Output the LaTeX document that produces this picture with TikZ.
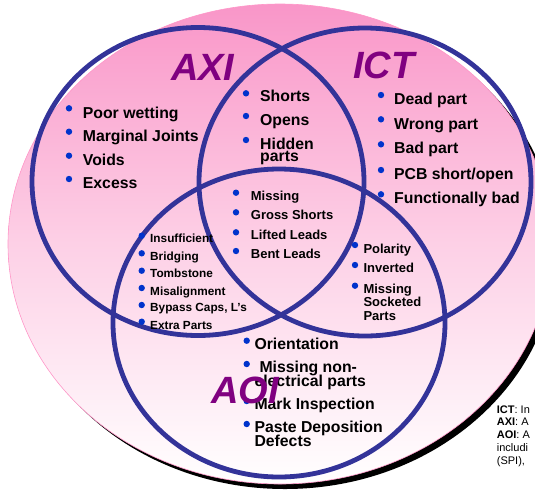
\documentclass[tikz,border=0pt]{standalone}
\usepackage{fontspec}
\setmainfont{Liberation Sans}
\begin{document}
\begin{tikzpicture}[x=1pt,y=-1pt]
\definecolor{circ}{RGB}{51,51,153}
\definecolor{lbl}{RGB}{128,0,128}
\definecolor{bul}{RGB}{0,51,204}
\definecolor{pinktop}{RGB}{249,150,200}
\definecolor{pinkmid}{RGB}{253,208,230}
\definecolor{pinkline}{RGB}{255,150,200}
\tikzset{
  ring/.style={draw=circ, line width=4.8pt},
  big/.style={font=\fontsize{15.8}{16}\selectfont\bfseries, inner sep=0pt, anchor=base west},
  mid/.style={font=\fontsize{13}{13}\selectfont\bfseries, inner sep=0pt, anchor=base west},
  sml/.style={font=\fontsize{11.8}{12}\selectfont\bfseries, inner sep=0pt, anchor=base west},
  ttl/.style={font=\fontsize{38}{38}\selectfont\bfseries\itshape, text=lbl, inner sep=0pt, anchor=base west},
  leg/.style={font=\fontsize{11}{11}\selectfont, inner sep=0pt, anchor=base west},
  dot/.style={fill=bul, circle, inner sep=0pt, minimum size=6.4pt},
}
\useasboundingbox (0,0) rectangle (535,491);
\clip (0,0) rectangle (535,491);
% background
\fill[black] (285,249) ellipse [x radius=272pt, y radius=240pt];
\shade[top color=pinktop, bottom color=white, middle color=pinkmid, draw=pinkline, line width=0.6pt]
  (280,244) ellipse [x radius=272pt, y radius=240pt];
% rings
\draw[ring] (198,181.5) ellipse [x radius=166pt, y radius=154pt];
\draw[ring] (365,182) ellipse [x radius=166pt, y radius=154pt];
\draw[ring] (279,323) ellipse [x radius=166pt, y radius=154pt];
% titles
\node[ttl] (axi) at (171,80) {AXI};
\node[ttl] (ict) at (353,78) {ICT};
% AXI only
\node[dot] (a1d) at (69,108.3) {};
\node[big] (a1) at (82.7,118.3) {Poor wetting};
\node[dot] (a2d) at (69,131.7) {};
\node[big] (a2) at (82.7,141.7) {Marginal Joints};
\node[dot] (a3d) at (69,155.7) {};
\node[big] (a3) at (82.7,165.7) {Voids};
\node[dot] (a4d) at (69,179) {};
\node[big] (a4) at (82.7,188.3) {Excess};
% AXI and ICT
\node[dot] (x1d) at (246,93.3) {};
\node[big] (x1) at (260,101.7) {Shorts};
\node[dot] (x2d) at (246,116) {};
\node[big] (x2) at (260,125) {Opens};
\node[dot] (x3d) at (246,140) {};
\node[big] (x3) at (260,149.3) {Hidden};
\node[big] (x3b) at (260,161.7) {parts};
% ICT only
\node[dot] (i1d) at (381,95) {};
\node[big] (i1) at (394,104.3) {Dead part};
\node[dot] (i2d) at (381,119.3) {};
\node[big] (i2) at (394,129.3) {Wrong part};
\node[dot] (i3d) at (381,144.3) {};
\node[big] (i3) at (394,153.3) {Bad part};
\node[dot] (i4d) at (381,170) {};
\node[big] (i4) at (394,179) {PCB short/open};
\node[dot] (i5d) at (381,194.3) {};
\node[big] (i5) at (394,203.3) {Functionally bad};
% center
\node[dot] (c1d) at (236,192.7) {};
\node[mid] (c1) at (250.7,200) {Missing};
\node[dot] (c2d) at (236,212.3) {};
\node[mid] (c2) at (250.7,219.3) {Gross Shorts};
\node[dot] (c3d) at (236,232.3) {};
\node[mid] (c3) at (250.7,239) {Lifted Leads};
\node[dot] (c4d) at (236,251) {};
\node[mid] (c4) at (250.7,258.3) {Bent Leads};
% AXI and AOI
\node[dot] (l1d) at (141.7,235.7) {};
\node[sml] (l1) at (150,242.7) {Insufficient};
\node[dot] (l2d) at (141.7,253.3) {};
\node[sml] (l2) at (150,260) {Bridging};
\node[dot] (l3d) at (141.7,270.7) {};
\node[sml] (l3) at (150,277.7) {Tombstone};
\node[dot] (l4d) at (141.7,288) {};
\node[sml] (l4) at (150,295) {Misalignment};
\node[dot] (l5d) at (141.7,305) {};
\node[sml] (l5) at (150,311.7) {Bypass Caps, L's};
\node[dot] (l6d) at (141.7,321.7) {};
\node[sml] (l6) at (150,329) {Extra Parts};
% ICT and AOI
\node[dot] (r1d) at (355,245) {};
\node[mid] (r1) at (363.3,253.3) {Polarity};
\node[dot] (r2d) at (355,265) {};
\node[mid] (r2) at (363.3,272.7) {Inverted};
\node[dot] (r3d) at (355,285.7) {};
\node[mid] (r3) at (363.3,293.5) {Missing};
\node[mid] (r3b) at (363.3,306.8) {Socketed};
\node[mid] (r3c) at (363.3,320) {Parts};
% AOI only
\node[dot] (o1d) at (246.7,340.7) {};
\node[big] (o1) at (254.3,349.3) {Orientation};
\node[dot] (o2d) at (246.7,364) {};
\node[big] (o2) at (259.3,372.7) {Missing non-};
\node[big] (o2b) at (254.3,386) {electrical parts};
\node[dot] (o3d) at (246.7,401) {};
\node[big] (o3) at (254.3,409.3) {Mark Inspection};
\node[dot] (o4d) at (246.7,424) {};
\node[big] (o4) at (254.3,432.7) {Paste Deposition};
\node[big] (o4b) at (254.3,446) {Defects};
\node[ttl] (aoi) at (211,403.3) {AOI};
% legend
\node[leg] (g1) at (496.7,413.3) {\textbf{ICT}: In};
\node[leg] (g2) at (496.7,425.7) {\textbf{AXI}: A};
\node[leg] (g3) at (496.7,438.3) {\textbf{AOI}: A};
\node[leg] (g4) at (496.7,451) {includi};
\node[leg] (g5) at (496.7,464.3) {(SPI), };
\end{tikzpicture}
\end{document}
